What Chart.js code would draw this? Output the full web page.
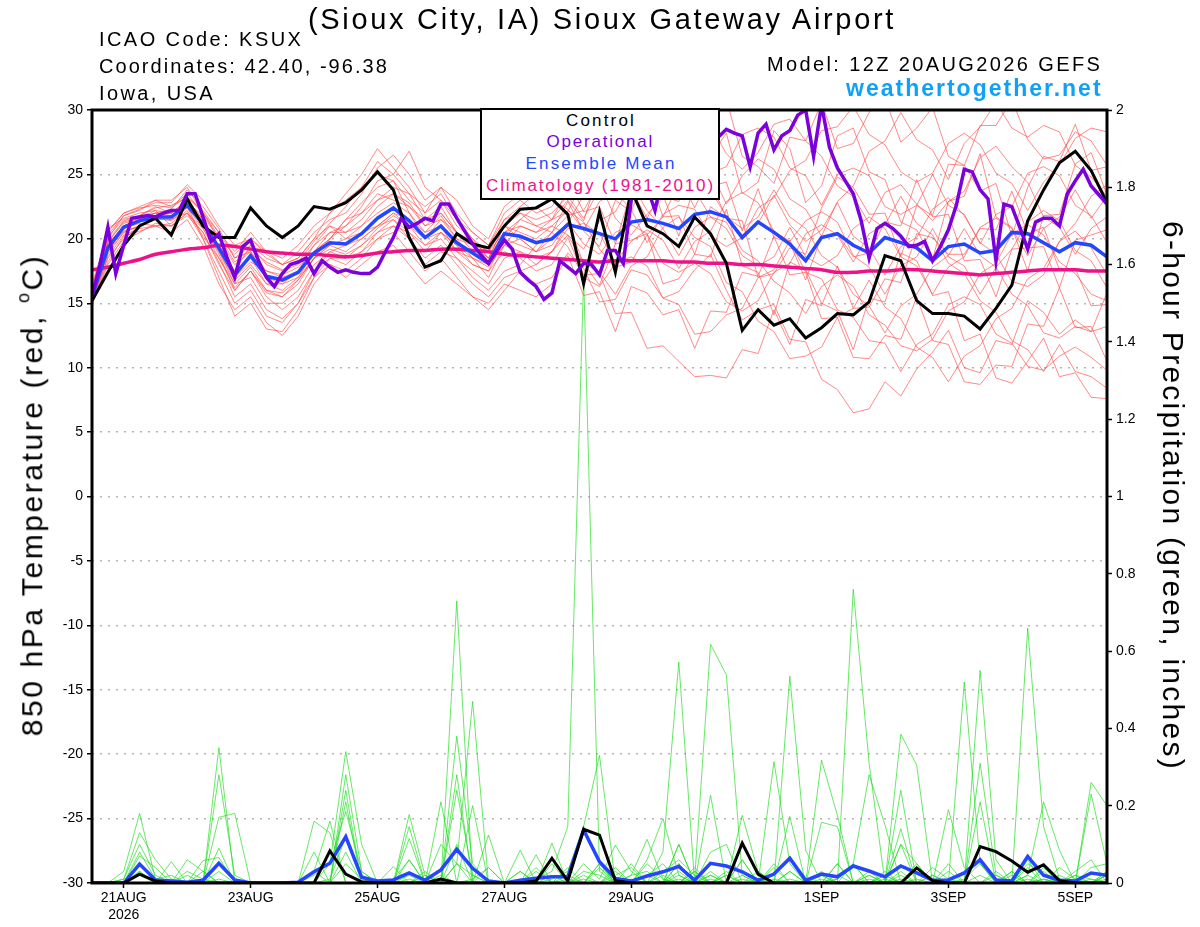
<!DOCTYPE html>
<html>
<head>
<meta charset="utf-8">
<title>KSUX GEFS 850 hPa temperature and precipitation</title>
<script src="https://cdn.jsdelivr.net/npm/chart.js@4.4.1/dist/chart.umd.min.js"></script>
<style>
  body { margin: 0; background: #fff; }
  #wrap { position: relative; width: 1200px; height: 927px; overflow: hidden; font-family: "Liberation Sans", Arial, Helvetica, sans-serif; }
  #chart { position: absolute; left: 0; top: 0; }
  .txt { position: absolute; white-space: nowrap; line-height: 1; color: #000; }
  .txt sup { font-size: 60%; line-height: 0; vertical-align: 0.75em; }
  #legendBox { position: absolute; left: 480px; top: 108px; width: 240px; height: 92px; box-sizing: border-box; border: 2px solid #000; background: #fff; }
</style>
</head>
<body>
<div id="wrap">
  <canvas id="chart" width="1200" height="927"></canvas>

  <div class="txt" data-l="308" data-w="585" data-b="30" style="font-size:29px">(Sioux City, IA) Sioux Gateway Airport</div>
  <div class="txt" data-l="99" data-w="202" data-b="46" style="font-size:20px">ICAO Code: KSUX</div>
  <div class="txt" data-l="99" data-w="288" data-b="72.7" style="font-size:20px">Coordinates: 42.40, -96.38</div>
  <div class="txt" data-l="99" data-w="113" data-b="99.7" style="font-size:20px">Iowa, USA</div>
  <div class="txt" data-l="767" data-w="333" data-b="71" style="font-size:20px">Model: 12Z 20AUG2026 GEFS</div>
  <div class="txt" data-l="846" data-w="255" data-b="96.5" style="font-size:23px;font-weight:bold;color:#0ea2f6">weathertogether.net</div>

  <div id="legendBox"></div>
  <div class="txt" data-l="566" data-w="68" data-b="126.7" style="font-size:17px">Control</div>
  <div class="txt" data-l="546.5" data-w="106" data-b="147.7" style="font-size:17px;color:#7a00dc">Operational</div>
  <div class="txt" data-l="525.5" data-w="149" data-b="169.3" style="font-size:17px;color:#2446ff">Ensemble Mean</div>
  <div class="txt" data-l="486" data-w="227" data-b="191" style="font-size:17px;color:#ee1289">Climatology (1981-2010)</div>

  <div class="txt" data-rot="-90" data-cx="32.5" data-cy="495" data-w="480" style="font-size:30px">850 hPa Temperature (red, <sup>o</sup>C)</div>
  <div class="txt" data-rot="90" data-cx="1172.5" data-cy="496" data-w="548" style="font-size:30px">6-hour Precipitation (green, inches)</div>
</div>

<script>
// GEFS run 12Z 20AUG2026, 6-hourly steps (hour 0 .. 384)
const dateTickHours = [12, 60, 108, 156, 204, 276, 324, 372];
const dateTickLabels = [["21AUG", "2026"], "23AUG", "25AUG", "27AUG", "29AUG", "1SEP", "3SEP", "5SEP"];
const precipTicks = [0, 0.2, 0.4, 0.6, 0.8, 1, 1.2, 1.4, 1.6, 1.8, 2];

// 850 hPa temperature, deg C
const tempControl = [
  15.2, 17.4, 19.5, 21.0, 21.6, 20.3, 23.1, 21.0, 20.1, 20.1,
  22.4, 21.0, 20.1, 21.0, 22.5, 22.3, 22.8, 23.8, 25.2, 23.8,
  20.1, 17.8, 18.3, 20.4, 19.6, 19.3, 21.0, 22.3, 22.4, 23.1,
  21.9, 16.5, 22.1, 17.4, 23.8, 21.0, 20.4, 19.4, 21.7, 20.4,
  18.1, 12.9, 14.5, 13.3, 13.8, 12.3, 13.1, 14.2, 14.1, 15.1,
  18.7, 18.3, 15.2, 14.2, 14.2, 14.0, 13.0, 14.6, 16.4, 21.4,
  23.8, 25.9, 26.8, 25.3, 22.8
];
const tempMean = [
  15.5, 19.3, 20.9, 21.4, 21.7, 21.7, 22.6, 21.2, 19.3, 17.2,
  18.7, 17.1, 16.8, 17.4, 18.9, 19.7, 19.6, 20.4, 21.6, 22.4,
  21.4, 20.1, 21.0, 19.7, 18.9, 18.1, 20.4, 20.2, 19.7, 20.0,
  21.1, 20.8, 20.4, 20.0, 21.3, 21.5, 21.2, 20.8, 21.9, 22.1,
  21.7, 20.1, 21.3, 20.5, 19.6, 18.3, 20.1, 20.4, 19.5, 18.9,
  20.1, 19.7, 19.3, 18.3, 19.4, 19.6, 18.9, 19.1, 20.5, 20.4,
  19.7, 19.0, 19.7, 19.5, 18.6
];
const tempClimo = [
  17.6, 17.8, 18.1, 18.4, 18.8, 19.0, 19.2, 19.3, 19.5, 19.4,
  19.2, 19.0, 18.9, 18.8, 18.8, 18.7, 18.6, 18.7, 18.9, 19.0,
  19.1, 19.1, 19.2, 19.2, 19.1, 19.0, 18.8, 18.7, 18.6, 18.5,
  18.4, 18.3, 18.2, 18.3, 18.3, 18.3, 18.3, 18.2, 18.2, 18.1,
  18.1, 18.0, 18.0, 17.9, 17.8, 17.7, 17.6, 17.4, 17.4, 17.5,
  17.5, 17.6, 17.6, 17.5, 17.4, 17.3, 17.2, 17.3, 17.4, 17.5,
  17.6, 17.6, 17.6, 17.5, 17.5
];
// operational run is 3-hourly
const tempOper = [
  15.5, 18.0, 20.9, 17.3, 19.5, 21.6, 21.7, 21.8, 21.7, 22.0,
  22.2, 22.2, 23.5, 23.5, 21.7, 19.8, 20.4, 18.6, 17.0, 19.4,
  19.9, 18.3, 17.0, 16.3, 17.3, 18.0, 18.2, 18.5, 17.3, 18.3,
  17.8, 17.4, 17.6, 17.4, 17.3, 17.3, 17.8, 19.0, 20.1, 21.6,
  20.9, 21.2, 21.6, 21.4, 22.7, 22.7, 21.6, 20.6, 19.6, 18.8,
  18.1, 19.0, 19.9, 19.2, 17.4, 16.8, 16.3, 15.3, 15.8, 18.3,
  17.8, 17.3, 18.1, 18.0, 17.2, 19.1, 19.1, 18.1, 23.0, 25.5,
  24.0, 22.2, 25.0, 26.5, 27.0, 26.2, 27.5, 28.0, 27.2, 27.9,
  28.5, 28.2, 28.0, 25.6, 28.2, 28.9, 26.9, 28.0, 28.4, 29.6,
  30.0, 26.4, 30.4, 27.1, 25.5, 24.5, 23.5, 21.4, 18.5, 20.8,
  21.2, 20.8, 20.2, 19.4, 19.5, 19.8, 18.3, 19.4, 20.7, 22.6,
  25.4, 25.2, 23.8, 23.1, 18.3, 22.7, 22.5, 20.9, 19.2, 21.3,
  21.6, 21.6, 21.0, 23.5, 24.5, 25.4, 24.1, 23.4, 22.7
];
const tempMembers = [
  [15.8, 20.2, 21.5, 21.8, 22.5, 22.0, 23.0, 21.5, 19.0, 16.5,
   17.8, 16.0, 15.5, 16.8, 18.5, 20.0, 21.5, 22.8, 24.0, 24.5,
   22.0, 20.5, 21.8, 20.0, 18.5, 17.0, 19.5, 21.0, 20.5, 21.5,
   23.0, 21.4, 25.2, 24.6, 25.0, 27.1, 23.3, 22.9, 26.0, 26.4,
   28.2, 23.5, 24.4, 28.4, 27.0, 22.8, 24.1, 28.0, 28.6, 25.2,
   24.6, 21.3, 20.7, 18.4, 22.9, 23.3, 26.6, 21.7, 20.9, 17.5,
   21.8, 21.9, 25.8, 26.7, 23.4],
  [15.0, 18.5, 20.0, 21.0, 21.5, 21.5, 22.5, 20.0, 17.5, 15.0,
   16.0, 14.0, 13.5, 15.0, 17.0, 18.5, 18.0, 19.0, 20.5, 21.5,
   20.0, 18.5, 19.5, 18.0, 16.5, 15.5, 17.0, 17.5, 16.5, 17.0,
   18.9, 17.7, 15.1, 15.3, 17.6, 17.2, 15.4, 15.9, 17.6, 18.8,
   16.0, 13.7, 14.5, 14.9, 12.2, 12.0, 9.1, 8.3, 6.5, 6.8,
   8.9, 7.8, 9.9, 11.2, 12.9, 10.0, 9.6, 12.1, 11.8, 15.2,
   14.3, 12.6, 13.7, 12.8, 15.8],
  [16.2, 20.5, 22.0, 22.5, 23.0, 22.5, 23.5, 22.0, 20.5, 19.0,
   20.5, 19.0, 18.5, 19.5, 21.0, 22.0, 23.5, 25.0, 27.0, 25.5,
   24.0, 22.0, 23.0, 21.5, 20.0, 19.0, 21.5, 22.5, 23.5, 24.0,
   24.2, 27.8, 28.1, 28.6, 30.4, 26.7, 30.5, 28.9, 25.8, 29.7,
   30.8, 26.4, 25.6, 24.3, 27.9, 27.6, 30.6, 27.0, 27.4, 29.8,
   30.9, 27.5, 28.6, 30.2, 26.4, 25.7, 28.8, 28.8, 30.8, 27.7,
   26.2, 26.5, 28.3, 27.6, 25.7],
  [15.3, 19.0, 20.8, 21.2, 21.0, 20.5, 21.5, 19.5, 16.5, 14.5,
   15.5, 13.5, 12.5, 14.0, 16.5, 18.0, 17.5, 18.5, 20.0, 20.5,
   19.0, 17.5, 18.5, 17.0, 15.5, 14.5, 16.0, 17.5, 18.0, 19.0,
   21.2, 18.1, 16.4, 19.6, 19.9, 20.4, 16.5, 16.9, 18.8, 18.6,
   22.3, 17.9, 17.4, 14.1, 18.2, 17.6, 15.0, 14.4, 11.4, 15.4,
   15.1, 18.9, 18.3, 15.6, 15.9, 12.1, 12.6, 9.2, 8.8, 10.5,
   12.3, 9.3, 9.6, 7.7, 7.6],
  [15.6, 19.8, 21.2, 21.6, 22.0, 22.3, 23.8, 22.5, 20.8, 18.5,
   19.5, 18.0, 17.5, 18.0, 19.5, 21.0, 20.5, 21.5, 23.0, 24.0,
   23.5, 21.5, 22.5, 20.5, 19.5, 18.5, 21.0, 20.0, 19.0, 20.5,
   22.9, 20.6, 19.4, 23.0, 22.1, 25.4, 21.7, 21.8, 18.8, 22.5,
   21.6, 21.4, 17.0, 17.3, 19.3, 18.8, 22.4, 24.8, 24.0, 21.9,
   22.0, 18.6, 22.6, 21.8, 25.8, 25.7, 23.7, 24.3, 20.2, 24.0,
   26.4, 26.0, 28.9, 25.3, 25.6],
  [15.2, 18.8, 20.5, 21.0, 21.8, 21.5, 22.0, 20.5, 18.0, 16.0,
   17.5, 15.5, 14.5, 15.5, 17.5, 19.0, 19.5, 20.0, 21.0, 21.5,
   20.5, 19.0, 20.5, 19.0, 18.0, 17.5, 19.0, 18.5, 17.5, 18.0,
   20.1, 17.2, 17.3, 14.2, 14.3, 11.5, 11.7, 10.5, 9.3, 9.4,
   9.2, 11.4, 11.1, 14.5, 11.8, 15.3, 14.8, 17.9, 14.6, 14.7,
   16.9, 16.6, 20.4, 20.1, 18.8, 18.8, 20.8, 20.7, 23.7, 20.4,
   20.9, 17.6, 17.7, 14.8, 14.9],
  [15.9, 20.0, 21.8, 22.3, 22.8, 22.8, 24.2, 23.0, 21.0, 19.5,
   20.0, 19.0, 18.0, 19.0, 20.5, 21.5, 22.0, 23.5, 25.5, 26.5,
   25.0, 23.0, 24.0, 22.0, 20.5, 19.5, 22.0, 23.0, 22.0, 22.5,
   24.6, 22.1, 22.5, 19.6, 23.7, 23.1, 23.4, 20.2, 24.2, 24.1,
   24.4, 20.6, 23.9, 20.1, 19.7, 16.8, 20.2, 20.4, 18.6, 18.9,
   21.3, 21.0, 24.6, 21.7, 21.9, 18.3, 18.4, 15.5, 19.2, 19.3,
   19.4, 16.2, 19.9, 20.3, 20.7],
  [14.9, 18.0, 19.8, 20.5, 21.2, 21.0, 22.0, 20.0, 17.0, 14.0,
   15.0, 13.0, 12.8, 14.5, 17.0, 18.0, 17.0, 18.0, 19.0, 19.5,
   18.0, 16.5, 17.5, 16.5, 15.5, 15.0, 16.5, 16.0, 15.5, 16.5,
   18.7, 15.6, 15.9, 12.8, 16.3, 15.8, 14.1, 14.5, 11.5, 14.4,
   14.3, 17.4, 17.1, 20.2, 17.2, 17.4, 13.8, 13.9, 10.8, 10.7,
   12.5, 12.2, 15.5, 12.1, 11.8, 8.9, 8.7, 10.2, 10.1, 13.4,
   13.2, 16.2, 13.1, 13.2, 10.5],
  [15.5, 19.5, 21.0, 21.5, 22.0, 22.0, 22.8, 21.8, 20.0, 18.0,
   19.0, 17.5, 17.0, 17.5, 19.0, 20.0, 21.0, 22.0, 23.5, 23.0,
   22.5, 21.0, 21.5, 20.5, 19.0, 18.0, 20.0, 21.5, 21.0, 20.5,
   21.8, 22.2, 24.4, 25.1, 27.3, 25.2, 24.3, 25.9, 27.1, 28.8,
   26.6, 25.4, 26.7, 28.9, 29.3, 27.6, 26.4, 24.1, 23.3, 21.2,
   23.6, 24.2, 22.7, 21.4, 22.9, 23.7, 26.3, 27.2, 25.6, 24.4,
   21.7, 20.9, 18.8, 20.8, 21.7],
  [15.4, 19.2, 20.6, 21.0, 21.5, 21.8, 22.5, 21.0, 19.5, 17.5,
   19.5, 18.5, 18.0, 18.5, 20.0, 21.0, 20.0, 20.5, 21.0, 22.0,
   21.0, 20.0, 21.5, 20.0, 19.5, 18.5, 20.5, 21.0, 20.5, 21.0,
   20.3, 18.1, 17.4, 15.7, 17.9, 18.6, 20.9, 21.7, 20.1, 19.4,
   16.6, 15.9, 13.6, 12.8, 10.7, 10.9, 11.6, 13.9, 14.6, 16.8,
   14.7, 13.8, 11.6, 10.8, 8.9, 10.9, 11.7, 13.8, 14.6, 16.9,
   17.7, 19.8, 20.6, 19.3, 17.2],
  [16.0, 20.8, 21.6, 22.0, 22.2, 21.0, 22.0, 20.8, 19.0, 16.8,
   18.0, 16.5, 16.0, 17.0, 19.0, 20.5, 21.0, 22.5, 24.5, 25.0,
   26.8, 24.0, 23.0, 21.0, 20.0, 18.5, 21.0, 22.0, 21.0, 21.5,
   23.8, 25.2, 24.4, 21.6, 20.3, 21.9, 23.2, 25.4, 26.1, 25.3,
   22.7, 24.9, 26.2, 25.4, 23.1, 22.3, 20.2, 22.9, 24.1, 26.8,
   27.6, 29.8, 27.7, 26.9, 24.6, 27.4, 28.7, 30.6, 28.6, 27.9,
   28.8, 28.3, 25.7, 24.8, 23.3],
  [15.1, 18.6, 20.3, 20.8, 21.0, 21.2, 22.2, 20.2, 18.5, 16.5,
   17.0, 15.0, 15.0, 16.0, 18.0, 19.0, 18.5, 19.5, 20.5, 21.0,
   20.0, 18.0, 19.0, 18.5, 17.5, 16.5, 18.5, 19.0, 18.0, 19.0,
   20.8, 21.2, 20.4, 18.2, 19.8, 20.7, 19.9, 17.7, 19.8, 20.6,
   22.9, 23.6, 22.8, 20.6, 19.8, 21.4, 22.1, 21.3, 18.7, 17.8,
   15.7, 17.9, 18.6, 20.8, 18.6, 17.9, 15.7, 17.8, 19.2, 21.3,
   22.2, 21.4, 19.1, 18.3, 16.2],
  [16.5, 20.3, 21.8, 22.2, 23.0, 23.0, 24.0, 22.0, 20.0, 18.8,
   20.0, 18.8, 18.0, 18.5, 20.0, 22.0, 23.0, 24.0, 25.0, 24.5,
   23.0, 22.0, 24.0, 23.0, 21.0, 20.0, 22.5, 23.5, 24.5, 23.0,
   22.3, 20.7, 22.9, 23.6, 22.3, 19.7, 21.9, 22.6, 22.3, 20.2,
   19.4, 20.1, 22.4, 23.2, 25.3, 26.1, 28.4, 28.7, 30.3, 28.1,
   27.3, 25.2, 24.4, 25.1, 27.4, 28.2, 27.3, 25.1, 24.3, 22.2,
   24.4, 25.7, 27.8, 28.6, 28.3],
  [15.7, 19.6, 21.0, 21.5, 21.8, 22.0, 23.0, 21.5, 19.5, 17.5,
   18.5, 16.5, 16.5, 17.0, 18.5, 19.5, 19.0, 20.0, 21.0, 22.0,
   21.5, 20.5, 21.0, 19.0, 18.5, 18.0, 19.5, 19.0, 18.5, 19.0,
   20.3, 19.2, 21.4, 22.1, 24.3, 22.2, 20.8, 18.7, 20.9, 21.7,
   21.3, 19.1, 18.3, 16.7, 15.8, 14.2, 16.3, 17.2, 16.3, 14.1,
   13.3, 11.7, 11.3, 12.2, 14.4, 15.1, 17.3, 18.1, 20.4, 21.1,
   20.3, 18.2, 17.3, 15.7, 15.2],
  [15.3, 19.4, 21.0, 21.6, 22.2, 22.0, 22.8, 21.0, 18.8, 16.0,
   17.5, 15.8, 15.5, 16.5, 18.5, 19.5, 20.0, 21.0, 22.0, 22.8,
   22.0, 20.0, 20.5, 19.5, 18.0, 17.5, 20.0, 19.5, 19.0, 19.5,
   21.2, 23.4, 24.7, 26.8, 24.6, 27.3, 28.2, 26.9, 24.7, 23.8,
   21.7, 20.3, 21.2, 23.4, 21.1, 19.8, 20.7, 22.8, 20.2, 19.3,
   17.2, 19.4, 20.1, 22.3, 23.2, 21.8, 19.7, 18.8, 16.7, 16.3,
   17.2, 19.8, 21.2, 23.3, 24.2],
  [15.6, 19.7, 21.4, 21.8, 22.4, 22.6, 23.2, 22.2, 20.5, 18.5,
   19.0, 17.0, 16.5, 17.5, 19.5, 20.5, 20.5, 21.0, 22.5, 23.5,
   22.5, 21.5, 22.0, 20.5, 19.5, 19.0, 21.0, 20.5, 20.0, 21.0,
   22.2, 21.3, 19.2, 17.8, 18.2, 20.3, 21.7, 24.3, 25.2, 24.3,
   21.7, 20.8, 21.7, 23.8, 21.7, 20.8, 18.7, 17.8, 15.7, 14.8,
   12.7, 14.8, 15.7, 17.8, 18.7, 20.8, 18.7, 17.8, 15.7, 14.8,
   12.7, 12.3, 13.2, 12.8, 13.2],
  [15.0, 18.2, 20.2, 20.6, 21.0, 21.0, 21.8, 20.5, 18.2, 15.5,
   16.5, 14.5, 13.8, 15.0, 17.5, 18.5, 18.5, 19.0, 20.0, 21.0,
   20.5, 19.5, 20.0, 18.5, 17.0, 16.0, 17.5, 18.0, 19.5, 20.5,
   19.4, 17.0, 16.3, 18.1, 18.6, 17.9, 15.4, 14.9, 12.6, 12.8,
   14.1, 14.6, 17.0, 17.6, 19.9, 17.4, 16.9, 14.5, 13.9, 12.1,
   11.9, 9.7, 11.8, 12.6, 14.9, 15.5, 14.9, 12.6, 11.9, 10.1,
   9.8, 10.9, 11.6, 10.8, 9.8],
  [15.8, 20.0, 21.3, 21.7, 22.0, 21.8, 22.6, 21.3, 19.2, 17.0,
   18.2, 17.5, 17.2, 17.8, 19.0, 20.0, 21.5, 22.0, 23.0, 23.5,
   22.8, 21.0, 22.0, 20.5, 19.8, 19.0, 20.5, 21.5, 22.5, 21.5,
   22.1, 24.6, 25.1, 24.5, 25.4, 28.0, 25.6, 24.9, 22.4, 25.1,
   25.6, 28.1, 28.6, 27.9, 25.5, 24.9, 22.6, 25.0, 25.5, 24.9,
   22.5, 21.9, 22.6, 25.0, 22.6, 21.9, 19.6, 21.9, 22.5, 25.1,
   25.6, 24.9, 22.6, 21.8, 19.7],
  [15.4, 19.0, 20.5, 21.0, 21.6, 21.4, 22.4, 20.8, 18.5, 16.2,
   17.5, 16.0, 15.8, 16.8, 18.5, 19.2, 18.8, 19.5, 20.8, 21.8,
   21.0, 19.5, 20.5, 19.5, 18.5, 17.8, 19.5, 20.0, 19.0, 20.0,
   21.3, 19.6, 18.8, 20.5, 21.1, 20.4, 18.1, 17.4, 18.1, 17.3,
   15.1, 14.4, 15.2, 17.4, 18.1, 20.4, 21.1, 20.3, 18.2, 20.4,
   21.1, 23.3, 21.2, 20.3, 18.1, 17.3, 15.2, 14.3, 12.1, 11.4,
   9.7, 11.8, 9.7, 9.3, 8.4],
  [16.0, 20.6, 22.0, 22.4, 22.6, 22.4, 23.3, 22.0, 20.2, 18.2,
   19.2, 18.2, 17.6, 18.2, 19.8, 21.2, 22.5, 24.0, 26.0, 25.0,
   23.5, 22.5, 23.5, 21.5, 20.5, 19.5, 21.5, 22.0, 21.5, 22.0,
   23.3, 21.6, 23.9, 24.6, 23.8, 21.6, 23.9, 24.7, 23.8, 21.7,
   20.8, 18.7, 17.9, 18.6, 20.9, 18.6, 17.9, 18.7, 20.8, 21.7,
   20.8, 18.6, 17.9, 15.7, 17.8, 18.6, 20.9, 21.6, 20.8, 18.7,
   20.8, 21.7, 23.8, 21.6, 23.3]
];

// 6-hour precipitation, inches
const precipControl = [
  0, 0, 0, 0.023, 0.005, 0, 0, 0, 0, 0,
  0, 0, 0, 0, 0, 0.083, 0.023, 0.003, 0, 0,
  0, 0, 0.010, 0, 0, 0, 0, 0, 0.005, 0.064,
  0.005, 0.139, 0.124, 0.006, 0, 0, 0, 0, 0, 0,
  0, 0.103, 0.023, 0, 0, 0, 0, 0, 0, 0,
  0, 0, 0.039, 0.006, 0, 0, 0.094, 0.081, 0.057, 0.028,
  0.047, 0.006, 0, 0, 0
];
const precipMean = [
  0, 0, 0, 0.049, 0.008, 0.005, 0.002, 0.007, 0.051, 0.008,
  0, 0, 0, 0.002, 0.029, 0.051, 0.120, 0.015, 0.005, 0.008,
  0.026, 0.007, 0.034, 0.087, 0.038, 0.005, 0, 0.007, 0.012, 0.016,
  0.016, 0.137, 0.055, 0.012, 0.005, 0.018, 0.029, 0.043, 0.007, 0.051,
  0.044, 0.029, 0.007, 0.023, 0.064, 0.007, 0.023, 0.016, 0.044, 0.031,
  0.016, 0.044, 0.026, 0.007, 0.008, 0.026, 0.060, 0.008, 0.005, 0.069,
  0.020, 0.007, 0.005, 0.026, 0.020
];
const precipMembers = [
  [0, 0, 0.03, 0.18, 0.01, 0.02, 0, 0, 0.03, 0,
   0, 0, 0, 0, 0.02, 0.05, 0.185, 0.03, 0, 0,
   0.02, 0, 0, 0.05, 0.02, 0, 0, 0, 0.01, 0.03,
   0.146, 1.57, 0.03, 0, 0, 0.02, 0, 0.05, 0, 0.02,
   0, 0.01, 0, 0, 0.03, 0, 0, 0.02, 0, 0,
   0.01, 0, 0, 0, 0.19, 0.04, 0, 0, 0, 0.02,
   0, 0, 0, 0.01, 0],
  [0, 0, 0.01, 0.13, 0.06, 0.01, 0, 0, 0, 0,
   0, 0, 0, 0, 0, 0.01, 0.12, 0.02, 0, 0,
   0.01, 0, 0.1, 0.05, 0, 0, 0, 0, 0, 0.01,
   0.03, 0.146, 0.33, 0, 0.01, 0, 0.02, 0, 0, 0,
   0.02, 0, 0, 0.05, 0, 0, 0.01, 0, 0, 0.02,
   0, 0, 0.01, 0, 0, 0.52, 0.05, 0, 0, 0,
   0.01, 0, 0, 0, 0.02],
  [0, 0, 0.01, 0.10, 0.02, 0, 0.03, 0.01, 0, 0,
   0, 0, 0, 0, 0, 0, 0.08, 0, 0, 0,
   0, 0.02, 0, 0, 0.01, 0.04, 0, 0.03, 0, 0,
   0, 0.05, 0.01, 0.098, 0.03, 0, 0, 0.01, 0, 0,
   0, 0, 0.03, 0, 0, 0, 0, 0.01, 0.05, 0,
   0, 0, 0, 0, 0, 0, 0.55, 0.06, 0, 0,
   0, 0.01, 0, 0, 0],
  [0, 0, 0, 0.08, 0.01, 0, 0, 0, 0.01, 0,
   0, 0, 0, 0, 0, 0, 0.05, 0.01, 0, 0,
   0.06, 0, 0, 0, 0, 0, 0, 0, 0.03, 0,
   0, 0, 0.05, 0, 0.02, 0.113, 0.01, 0, 0.03, 0,
   0, 0, 0, 0, 0.01, 0, 0, 0, 0, 0.02,
   0, 0.02, 0, 0, 0, 0, 0.31, 0.02, 0, 0,
   0.01, 0, 0, 0, 0],
  [0, 0, 0, 0.07, 0.04, 0, 0.02, 0, 0, 0,
   0, 0, 0, 0, 0.03, 0, 0, 0, 0, 0.042,
   0, 0, 0.02, 0, 0, 0, 0, 0, 0, 0.05,
   0, 0, 0, 0.03, 0, 0.06, 0.167, 0.02, 0, 0,
   0, 0.06, 0, 0, 0, 0, 0.02, 0, 0, 0,
   0, 0, 0.05, 0, 0, 0, 0.21, 0, 0.03, 0,
   0, 0, 0.02, 0, 0],
  [0, 0, 0, 0.05, 0, 0.055, 0, 0, 0, 0,
   0, 0, 0, 0, 0, 0, 0, 0, 0, 0,
   0.177, 0.02, 0, 0, 0, 0, 0, 0, 0, 0,
   0.02, 0, 0, 0, 0, 0, 0.08, 0.572, 0, 0.01,
   0, 0, 0, 0.01, 0, 0, 0, 0.05, 0, 0,
   0, 0, 0, 0, 0, 0, 0, 0, 0, 0.66,
   0.146, 0.01, 0, 0, 0.03],
  [0, 0, 0, 0.03, 0, 0, 0.06, 0.03, 0, 0,
   0, 0, 0, 0, 0, 0, 0, 0, 0, 0,
   0.146, 0, 0, 0, 0, 0, 0, 0.03, 0, 0,
   0, 0, 0, 0, 0.05, 0, 0, 0, 0.01, 0.618,
   0.538, 0.02, 0, 0, 0, 0, 0, 0, 0, 0.03,
   0, 0.01, 0, 0, 0, 0, 0, 0, 0, 0.02,
   0.21, 0.085, 0, 0, 0],
  [0, 0, 0, 0.03, 0, 0, 0, 0.058, 0.066, 0,
   0, 0, 0, 0, 0, 0, 0, 0, 0, 0,
   0.115, 0, 0, 0, 0, 0, 0, 0, 0, 0.02,
   0, 0, 0, 0, 0, 0, 0, 0.05, 0, 0.227,
   0, 0.175, 0.03, 0, 0, 0, 0, 0, 0, 0,
   0.02, 0, 0, 0, 0, 0, 0, 0, 0, 0,
   0, 0, 0, 0.26, 0.2],
  [0, 0, 0, 0.02, 0, 0, 0, 0.03, 0, 0,
   0, 0, 0, 0, 0, 0, 0, 0, 0, 0.01,
   0.06, 0, 0.21, 0, 0, 0, 0, 0, 0, 0,
   0, 0, 0.05, 0, 0, 0, 0, 0.1, 0, 0.08,
   0.1, 0, 0, 0, 0, 0, 0, 0, 0.05, 0,
   0, 0.10, 0.05, 0, 0, 0, 0, 0, 0.02, 0,
   0, 0, 0, 0.23, 0.05],
  [0, 0, 0, 0, 0, 0, 0, 0, 0.35, 0,
   0, 0, 0, 0, 0, 0, 0, 0, 0, 0,
   0, 0, 0, 0.73, 0, 0, 0, 0, 0, 0,
   0, 0, 0, 0.02, 0.04, 0, 0, 0.03, 0, 0,
   0, 0, 0, 0.314, 0.05, 0, 0, 0, 0, 0,
   0.03, 0, 0, 0.02, 0, 0.01, 0.05, 0, 0, 0.04,
   0, 0, 0, 0, 0],
  [0, 0, 0, 0, 0, 0, 0, 0, 0.28, 0.02,
   0, 0, 0, 0, 0, 0, 0, 0, 0, 0,
   0, 0, 0, 0.38, 0.05, 0, 0, 0, 0, 0,
   0, 0.03, 0.02, 0, 0, 0.05, 0.01, 0, 0.04, 0,
   0, 0, 0, 0, 0.535, 0.085, 0, 0, 0, 0,
   0, 0, 0, 0, 0, 0, 0, 0, 0, 0,
   0.03, 0, 0.02, 0.01, 0],
  [0, 0, 0, 0, 0, 0, 0, 0, 0.17, 0.18,
   0, 0, 0, 0, 0, 0, 0, 0, 0, 0,
   0, 0, 0, 0.28, 0, 0, 0, 0, 0, 0,
   0, 0, 0, 0, 0, 0, 0, 0, 0.03, 0,
   0, 0.06, 0, 0, 0.172, 0, 0.03, 0, 0, 0,
   0.02, 0, 0, 0.04, 0.01, 0, 0, 0.03, 0, 0.06,
   0, 0, 0, 0, 0.02],
  [0, 0, 0, 0, 0, 0, 0, 0, 0.09, 0,
   0, 0, 0, 0, 0, 0, 0, 0, 0, 0,
   0, 0.03, 0, 0.24, 0.02, 0, 0, 0, 0.04, 0,
   0, 0, 0, 0, 0, 0, 0, 0.1, 0, 0,
   0, 0, 0, 0, 0, 0, 0.318, 0.175, 0, 0,
   0, 0, 0, 0, 0, 0, 0, 0, 0.03, 0,
   0, 0.04, 0.01, 0, 0.03],
  [0, 0, 0, 0, 0, 0, 0, 0, 0, 0,
   0, 0, 0, 0, 0.16, 0.13, 0, 0, 0, 0,
   0, 0, 0, 0.1, 0, 0, 0, 0, 0, 0,
   0.01, 0, 0.04, 0, 0, 0.02, 0.05, 0, 0, 0.03,
   0, 0, 0, 0, 0, 0, 0.157, 0.146, 0, 0,
   0, 0.03, 0, 0, 0.05, 0, 0, 0.02, 0, 0,
   0, 0, 0, 0, 0],
  [0, 0, 0, 0, 0, 0, 0, 0, 0, 0,
   0, 0, 0, 0, 0.08, 0, 0, 0, 0, 0,
   0, 0, 0, 0.05, 0.47, 0, 0, 0, 0, 0,
   0, 0.02, 0, 0.01, 0, 0, 0.03, 0.06, 0.02, 0,
   0, 0, 0, 0, 0, 0, 0, 0, 0.76, 0.31,
   0, 0, 0, 0, 0, 0, 0, 0, 0, 0.05,
   0.02, 0, 0, 0.04, 0.05],
  [0, 0, 0, 0, 0, 0, 0, 0, 0, 0,
   0, 0, 0, 0, 0.03, 0.16, 0, 0, 0, 0,
   0, 0, 0, 0, 0.2, 0, 0, 0, 0, 0,
   0, 0, 0, 0, 0, 0, 0, 0, 0, 0,
   0.03, 0, 0, 0.02, 0.06, 0, 0, 0.01, 0.05, 0.28,
   0.15, 0, 0, 0, 0, 0, 0, 0, 0, 0,
   0, 0.02, 0, 0, 0.01],
  [0, 0, 0, 0, 0, 0, 0, 0, 0, 0,
   0, 0, 0, 0, 0, 0.05, 0.34, 0.10, 0, 0,
   0, 0, 0, 0, 0, 0.124, 0, 0, 0, 0,
   0.04, 0, 0, 0, 0.02, 0.03, 0, 0, 0, 0.02,
   0, 0, 0, 0, 0, 0, 0, 0, 0, 0,
   0, 0.385, 0.305, 0, 0, 0, 0, 0, 0, 0,
   0, 0, 0.03, 0.06, 0],
  [0, 0, 0, 0, 0, 0, 0, 0, 0, 0,
   0, 0, 0, 0, 0, 0, 0.28, 0.03, 0, 0,
   0, 0, 0, 0, 0, 0.04, 0, 0.085, 0, 0,
   0, 0, 0, 0, 0, 0, 0, 0, 0, 0,
   0, 0.02, 0, 0.04, 0, 0, 0.02, 0, 0, 0.01,
   0, 0.24, 0, 0.02, 0, 0, 0, 0, 0, 0,
   0, 0, 0, 0, 0],
  [0, 0, 0, 0, 0, 0, 0, 0, 0, 0,
   0, 0, 0, 0, 0, 0, 0.24, 0, 0, 0,
   0, 0, 0, 0, 0, 0, 0, 0, 0.073, 0,
   0, 0, 0, 0, 0, 0, 0, 0, 0, 0,
   0.02, 0, 0.01, 0, 0.03, 0, 0, 0.05, 0, 0,
   0, 0.14, 0, 0, 0, 0, 0, 0, 0, 0,
   0.04, 0, 0, 0, 0.02],
  [0, 0, 0, 0, 0, 0, 0, 0, 0, 0,
   0, 0, 0, 0, 0, 0, 0.21, 0, 0, 0,
   0, 0, 0, 0, 0, 0, 0, 0, 0, 0.103,
   0, 0.01, 0, 0.04, 0, 0, 0, 0.02, 0, 0,
   0, 0, 0, 0, 0, 0, 0, 0, 0, 0,
   0, 0.10, 0, 0, 0.03, 0, 0.02, 0, 0, 0.01,
   0, 0, 0, 0, 0]
];

// ---- text placement (header, legend, axis titles are HTML) ----
function fitText(el) {
  const target = +el.dataset.w;
  el.style.letterSpacing = "0px";
  const natural = el.offsetWidth;
  const n = el.textContent.length;
  el.style.letterSpacing = ((target - natural) / Math.max(n - 1, 1)).toFixed(2) + "px";
}

document.querySelectorAll(".txt").forEach((el) => {
  fitText(el);
  const fs = parseFloat(getComputedStyle(el).fontSize);
  if (el.dataset.rot) {
    const w = el.offsetWidth;
    const h = el.offsetHeight;
    el.style.left = (+el.dataset.cx - w / 2) + "px";
    el.style.top = (+el.dataset.cy - h / 2) + "px";
    el.style.transform = "rotate(" + el.dataset.rot + "deg)";
  } else {
    el.style.left = el.dataset.l + "px";
    el.style.top = (+el.dataset.b - 0.8465 * fs) + "px";
  }
});

// ---- chart ----
Chart.defaults.font.family = '"Liberation Sans", Arial, Helvetica, sans-serif';
Chart.defaults.font.size = 14;
Chart.defaults.color = "#000";

function series(values, step, axis, color, width, order) {
  return {
    data: values.map((v, i) => ({ x: i * step, y: v })),
    yAxisID: axis,
    borderColor: color,
    borderWidth: width,
    order: order,
    pointRadius: 0,
    tension: 0,
    fill: false,
    clip: 0,
  };
}

const datasets = [];
tempMembers.forEach((m) => datasets.push(series(m, 6, "y", "rgba(255,70,70,0.8)", 0.8, 20)));
precipMembers.forEach((m) => datasets.push(series(m, 6, "y2", "rgba(30,220,30,0.85)", 0.8, 20)));
datasets.push(Object.assign(series(tempClimo, 6, "y", "#ee1289", 3.5, 6), { tension: 0.3 }));
datasets.push(series(precipMean, 6, "y2", "#2446ff", 3.5, 5));
datasets.push(series(precipControl, 6, "y2", "#000", 3, 4));
datasets.push(series(tempMean, 6, "y", "#2446ff", 3.5, 3));
datasets.push(series(tempControl, 6, "y", "#000", 3, 2));
datasets.push(series(tempOper, 3, "y", "#7a00dc", 3.5, 1));

const framePlugin = {
  id: "frame",
  afterDatasetsDraw(chart) {
    const { ctx, chartArea: a } = chart;
    ctx.save();
    ctx.strokeStyle = "#000";
    ctx.lineWidth = 3;
    ctx.strokeRect(a.left, a.top, a.right - a.left, a.bottom - a.top);
    ctx.restore();
  },
};

new Chart(document.getElementById("chart"), {
  type: "line",
  data: { datasets },
  plugins: [framePlugin],
  options: {
    responsive: false,
    animation: false,
    layout: { padding: { top: 110, left: 0, right: 0, bottom: 0 } },
    plugins: { legend: { display: false }, tooltip: { enabled: false } },
    scales: {
      x: {
        type: "linear",
        min: 0,
        max: 384,
        afterBuildTicks: (s) => { s.ticks = dateTickHours.map((v) => ({ value: v })); },
        afterFit: (s) => { s.height = 44; },
        grid: { drawOnChartArea: false, tickLength: 5, tickColor: "#000", tickWidth: 1.5 },
        border: { display: false },
        ticks: {
          autoSkip: false, maxRotation: 0, minRotation: 0, padding: 2,
          font: { size: 14, lineHeight: 1.2 },
          callback: (v, i) => dateTickLabels[i],
        },
      },
      y: {
        position: "left",
        min: -30,
        max: 30,
        afterFit: (s) => { s.width = 92; },
        ticks: { stepSize: 5, padding: 4 },
        grid: { color: "#b4b4b4", lineWidth: 1.5, tickLength: 5, tickColor: "#000", tickWidth: 1.5 },
        border: { display: false, dash: [2, 6] },
      },
      y2: {
        position: "right",
        min: 0,
        max: 2,
        afterBuildTicks: (s) => { s.ticks = precipTicks.map((v) => ({ value: v })); },
        afterFit: (s) => { s.width = 93; },
        ticks: { padding: 4, callback: (v) => String(v) },
        grid: { drawOnChartArea: false, tickLength: 5, tickColor: "#000", tickWidth: 1.5 },
        border: { display: false },
      },
    },
  },
});
</script>
</body>
</html>
